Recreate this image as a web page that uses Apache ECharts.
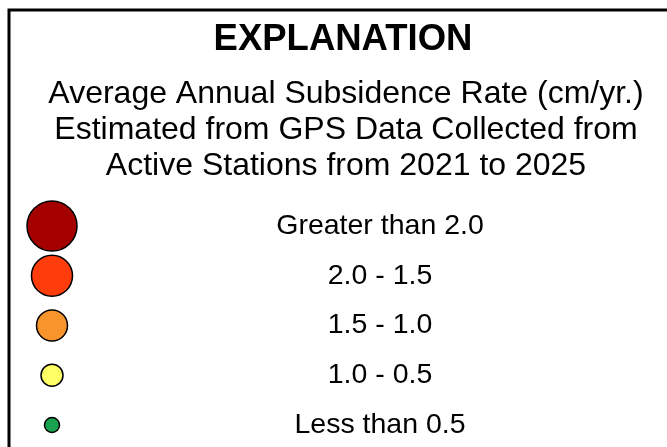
<!DOCTYPE html>
<html><head><meta charset="utf-8">
<script src="https://cdn.jsdelivr.net/npm/echarts@6/dist/echarts.min.js"></script>
<style>html,body{margin:0;padding:0;background:#fff}#c{width:667px;height:447px}</style>
</head><body><div id="c"></div>
<script>
// ---- content ----
const titleText = 'EXPLANATION';
const subtitleLines = [
  'Average Annual Subsidence Rate (cm/yr.)',
  'Estimated from GPS Data Collected from',
  'Active Stations from 2021 to 2025'
];
const classes = ['Greater than 2.0', '2.0 - 1.5', '1.5 - 1.0', '1.0 - 0.5', 'Less than 0.5'];
const columns = ['marker', 'label'];

// ---- styles ----
const classColors = ['#A50000', '#FF3D0C', '#F7942B', '#FFFF66', '#1AA34E'];
const markerSizes = [50, 41, 31, 22, 15];
const FONT = '"Liberation Sans", Arial, sans-serif';

const chart = echarts.init(document.getElementById('c'), null, {renderer: 'canvas'});

const graphics = [
  {type: 'rect', shape: {x: 9, y: 10, width: 700, height: 500},
   style: {fill: 'none', stroke: '#000', lineWidth: 3}, silent: true},
  {type: 'text', x: 343, y: 40,
   style: {text: titleText, font: 'bold 36.5px ' + FONT, fill: '#000', align: 'center', verticalAlign: 'middle'}}
];
subtitleLines.forEach((t, i) => {
  graphics.push({type: 'text', x: 346, y: 94 + i * 36,
    style: {text: t, font: '32px ' + FONT, fill: '#000', align: 'center', verticalAlign: 'middle'}});
});

chart.setOption({
  animation: false,
  backgroundColor: '#fff',
  graphic: graphics,
  grid: {left: 52, right: 287, top: 226, bottom: 22},
  xAxis: {type: 'category', data: columns, boundaryGap: false, show: false},
  yAxis: {type: 'category', data: classes, inverse: true, boundaryGap: false, show: false},
  series: [
    {
      type: 'scatter',
      data: classes.map((c, i) => ({
        value: ['marker', c],
        symbolSize: markerSizes[i],
        itemStyle: {color: classColors[i]}
      })),
      itemStyle: {borderColor: '#000', borderWidth: 1.5, opacity: 1}
    },
    {
      type: 'scatter',
      data: classes.map(c => ({value: ['label', c]})),
      symbolSize: 2,
      itemStyle: {color: 'rgba(0,0,0,0)', opacity: 1},
      label: {
        show: true, position: 'inside',
        formatter: p => p.value[1],
        color: '#000', opacity: 1, textBorderWidth: 0,
        fontSize: 28.5, fontFamily: FONT
      }
    }
  ]
});
</script></body></html>
